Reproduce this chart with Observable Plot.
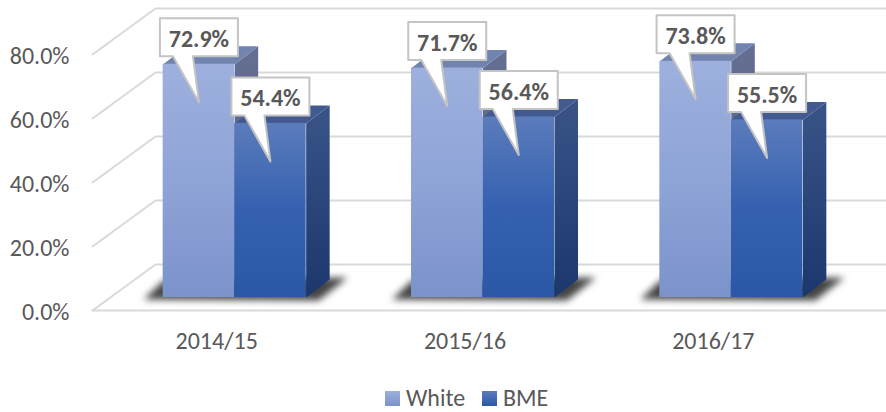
<!DOCTYPE html>
<html>
<head>
<meta charset="utf-8">
<script src="https://cdn.jsdelivr.net/npm/d3@7"></script>
<script src="https://cdn.jsdelivr.net/npm/@observablehq/plot@0.6"></script>
<style>
html,body{margin:0;padding:0;background:#fff;width:886px;height:412px;overflow:hidden}
#legend{height:34px;position:relative;font:24px Carlito,Lato,sans-serif;color:#595959}
#legend span{position:absolute;line-height:20px}
#legend i{position:absolute;width:15px;height:15px;display:block}
</style>
</head>
<body>
<div id="chart"></div>
<div id="legend"></div>
<script>
const categories = ["2014/15", "2015/16", "2016/17"];
const whiteValues = [72.9, 71.7, 73.8];
const bmeValues = [54.4, 56.4, 55.5];
const yTicks = [0, 20, 40, 60, 80];
const seriesNames = ["White", "BME"];

// pixels per data unit of the two linear scales
const PX = 745 / 3, PY = 3.2;
// 3-D projection offsets (px)
const wallDX = 63, wallUp = 46, barDX = 23.5, barUp = 18, liftDX = 18, liftUp = 13, barW = 71.5;

const P = (cx, dx, v, up) => ({x: cx + dx / PX, y: v + up / PY});
const centers = categories.map((_, i) => i + 0.5);
const rows = [];
centers.forEach((c, i) => {
  rows.push({c, series: 0, v: whiteValues[i], left: liftDX - barW});
  rows.push({c, series: 1, v: bmeValues[i], left: liftDX});
});
const polys = (rs, f) => rs.flatMap((r, k) => f(r).map(p => ({...p, id: k})));
const bySeries = s => rows.filter(r => r.series === s);

const sideFace = r => [
  P(r.c, r.left + barW, 0, liftUp), P(r.c, r.left + barW + barDX, 0, liftUp + barUp),
  P(r.c, r.left + barW + barDX, r.v, liftUp + barUp), P(r.c, r.left + barW, r.v, liftUp)];
const topFace = r => [
  P(r.c, r.left, r.v, liftUp), P(r.c, r.left + barW, r.v, liftUp),
  P(r.c, r.left + barW + barDX, r.v, liftUp + barUp), P(r.c, r.left + barDX, r.v, liftUp + barUp)];
const shadowShape = c => [
  P(c, -73, 0, 11), P(c, -53, 0, 30), P(c, 131, 0, 33), P(c, 102, 0, 10)];

const callout = r => {
  const tipX = r.left + barW / 2, tipUp = liftUp - 38;
  const p = (dx, up) => P(r.c, tipX + dx, r.v, tipUp + up);
  return [p(-39, 84), p(39, 84), p(39, 46), p(-6, 46), p(0, 0), p(-26, 46), p(-39, 46), p(-39, 84)];
};
const labelPos = r => P(r.c, r.left + barW / 2, r.v, liftUp - 38 + 63);

const gridLines = [
  ...yTicks.flatMap(t => [
    {...P(0, 0, t, 0), id: "d" + t},
    {...P(0, wallDX, t, wallUp), id: "d" + t},
    {...P(3, 60, t, wallUp), id: "d" + t}
  ]),
  {...P(0, 0, 0, 0), id: "f"}, {...P(3, 60, 0, 0), id: "f"}
];

const defs = () => {
  const d = d3.create("svg:defs");
  const grad = (id, stops) => {
    const g = d.append("linearGradient").attr("id", id).attr("x1", 0).attr("x2", 0).attr("y1", 0).attr("y2", 1);
    stops.forEach(([o, c]) => g.append("stop").attr("offset", o).attr("stop-color", c));
  };
  grad("whiteFront", [[0, "#9DB0DD"], [0.5, "#8FA4D7"], [1, "#7B92CB"]]);
  grad("bmeFront", [[0, "#5B7CBC"], [0.5, "#3561B0"], [1, "#2A58A6"]]);
  grad("whiteSide", [[0, "#646F92"], [1, "#4F5D86"]]);
  grad("bmeSide", [[0, "#3A5488"], [1, "#1B376D"]]);
  return d.node();
};

const face = (rs, f, fill) => Plot.line(polys(rs, f), {x: "x", y: "y", z: "id", fill, stroke: "none"});
const front = (rs, fill) => Plot.rect(rs, {
  x1: r => r.c + r.left / PX, x2: r => r.c + (r.left + barW) / PX,
  y1: liftUp / PY, y2: r => r.v + liftUp / PY, fill
});

const chart = Plot.plot({
  width: 886, height: 378,
  marginLeft: 92, marginRight: 49, marginTop: 54, marginBottom: 68,
  style: {fontFamily: "Carlito, Lato, sans-serif", background: "#fff"},
  x: {domain: [0, 3], range: [92, 837]},
  y: {domain: [0, 80], range: [310, 54]},
  marks: [
    defs,
    Plot.line(gridLines, {x: "x", y: "y", z: "id", stroke: "#D9D9D9", strokeWidth: 2}),
    Plot.line(centers.flatMap((c, i) => shadowShape(c).map(p => ({...p, id: i}))),
      {x: "x", y: "y", z: "id", fill: "#444", stroke: "none", imageFilter: "blur(3.5px)"}),
    face(bySeries(0), sideFace, "url(#whiteSide)"),
    face(bySeries(0), topFace, "#7184AF"),
    front(bySeries(0), "url(#whiteFront)"),
    face(bySeries(1), sideFace, "url(#bmeSide)"),
    face(bySeries(1), topFace, "#425A90"),
    front(bySeries(1), "url(#bmeFront)"),
    Plot.axisY(yTicks, {anchor: "left", tickSize: 0, tickPadding: 23, fontSize: 24, color: "#595959",
      label: null, dy: 2, tickFormat: d => d.toFixed(1) + "%"}),
    Plot.axisX(centers, {anchor: "bottom", tickSize: 0, tickPadding: 21, fontSize: 24, color: "#595959",
      label: null, tickFormat: c => categories[Math.floor(c)]}),
    ...rows.flatMap(r => [
      Plot.line(callout(r), {x: "x", y: "y", fill: "#fff", stroke: "#C4C4C4", strokeWidth: 2}),
      Plot.text([r], {x: d => labelPos(d).x, y: d => labelPos(d).y, text: d => d.v.toFixed(1) + "%",
        fontSize: 24, fontWeight: 700, fill: "#595959"})
    ])
  ]
});
document.getElementById("chart").appendChild(chart);

const legend = document.getElementById("legend");
const legendItems = [
  {name: seriesNames[0], swatch: "linear-gradient(#9DB0DD,#7B92CB)", sx: 385, tx: 406},
  {name: seriesNames[1], swatch: "linear-gradient(#5B7CBC,#2A58A6)", sx: 482, tx: 503}
];
legendItems.forEach(it => {
  const i = document.createElement("i");
  i.style.cssText = `left:${it.sx}px;top:13px;background:${it.swatch}`;
  const s = document.createElement("span");
  s.style.cssText = `left:${it.tx}px;top:10px`;
  s.textContent = it.name;
  legend.append(i, s);
});
</script>
</body>
</html>
